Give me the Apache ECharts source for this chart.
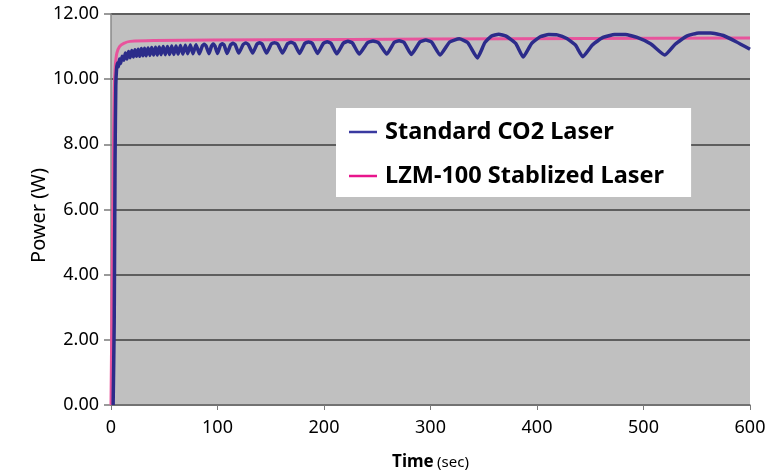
<!DOCTYPE html>
<html>
<head>
<meta charset="utf-8">
<script src="https://cdn.jsdelivr.net/npm/echarts@6/dist/echarts.min.js"></script>
<style>html,body{margin:0;padding:0;background:#fff}#c{width:765px;height:470px}</style>
</head>
<body>
<div id="c"></div>
<script>
const seriesNames = ['Standard CO2 Laser', 'LZM-100 Stablized Laser'];
const xTicks = [0, 100, 200, 300, 400, 500, 600];
const yTicks = [0, 2, 4, 6, 8, 10, 12];

const standardT = [2,3,3.8,4.5,5.2,6,7,8,9,10.5,12,13.5,15,16.5,18,19.5,21,22.5,24,25.5,27,28.5,30,31.5,33,34.8,36.5,38.2,40,41.8,43.5,45.3,47,49,51,53,55,57,59,61,63,65.2,67.5,69.8,72,74.5,77,79.8,
  83,85.7,87.5,89.3,92,94.4,96,97.6,100,102.7,104.5,106.3,109,112.3,114.5,116.7,120,124,126.5,129,133,137,139.5,142,146,150.5,153.5,156.5,161,165.8,169,172.2,177,182,185.5,189,194,199.4,203,206.6,212,218.3,222.5,226.7,233,240.8,246,251.2,259,265.9,270.5,275.1,282,290,295.5,301,
  309,318,327,335,344,351,357,364,371,380,387,395,403,411,419,428,436,443,452,462,473,483,494,507,520,530,541,552,563,575,587,600];
const standardV = [0,2.5,7.5,9.8,10.3,10.5,10.38,10.62,10.48,10.7,10.58,10.8,10.62,10.85,10.66,10.88,10.68,10.9,10.7,10.92,10.7,10.94,10.72,10.95,10.72,10.96,10.73,10.97,10.74,10.98,10.74,10.99,10.75,11.0,10.75,11.0,10.76,11.02,10.76,11.02,10.77,11.03,10.77,11.04,10.78,11.05,10.78,11.06,
  10.78,11.02,11.07,11.02,10.78,11.02,11.08,11.02,10.79,11.04,11.09,11.04,10.79,11.05,11.1,11.05,10.8,11.06,11.11,11.06,10.8,11.07,11.12,11.07,10.8,11.08,11.12,11.08,10.8,11.09,11.13,11.09,10.79,11.1,11.14,11.1,10.79,11.1,11.15,11.1,10.78,11.11,11.16,11.11,10.77,11.12,11.17,11.12,10.77,11.13,11.18,11.13,10.76,11.14,11.2,11.14,
  10.74,11.14,11.24,11.12,10.65,11.12,11.32,11.38,11.32,11.1,10.68,11.1,11.3,11.37,11.36,11.25,11.05,10.69,11.05,11.28,11.37,11.37,11.28,11.08,10.74,11.08,11.33,11.42,11.42,11.34,11.15,10.92];

const stabilizedT = [0,1,2,3,4,5.5,8,12,18,40,150,300,450,600];
const stabilizedV = [0,3.5,7,9.6,10.4,10.8,11.0,11.1,11.16,11.19,11.21,11.23,11.25,11.26];

const zip = (a, b) => a.map((t, i) => [t, b[i]]);

const chart = echarts.init(document.getElementById('c'));
chart.setOption({
  animation: false,
  backgroundColor: '#ffffff',
  grid: { left: 111, right: 15, top: 14, bottom: 65, show: true, backgroundColor: '#c0c0c0', borderWidth: 0,
    containLabel: false, outerBoundsMode: 'none' },
  legend: {
    data: seriesNames,
    orient: 'vertical',
    left: 336, top: 108,
    backgroundColor: '#ffffff',
    padding: [9, 27, 6, 13],
    itemGap: 14,
    itemWidth: 28, itemHeight: 2.5,
    icon: 'rect',
    textStyle: { fontFamily: 'Noto Sans', fontWeight: 'bold', fontSize: 23.5, color: '#000', lineHeight: 30, padding: [0, 0, 0, 3] }
  },
  xAxis: {
    type: 'value', min: 0, max: 600, interval: 100,
    name: '{b|Time} {r|(sec)}',
    nameLocation: 'middle', nameGap: 49, nameMoveOverlap: false,
    nameTextStyle: { rich: {
      b: { fontFamily: 'Noto Sans', fontWeight: 'bold', fontSize: 17, color: '#000' },
      r: { fontFamily: 'Noto Sans', fontSize: 15, color: '#000' }
    } },
    axisLine: { show: true, lineStyle: { color: '#7a7a7a', width: 1.5 } },
    axisTick: { show: true, length: 5, lineStyle: { color: '#7a7a7a' } },
    axisLabel: { fontFamily: 'Noto Sans', fontSize: 18, color: '#000', margin: 14,
      formatter: v => xTicks.includes(v) ? String(v) : '' },
    splitLine: { show: false }
  },
  yAxis: {
    type: 'value', min: 0, max: 12, interval: 2,
    name: 'Power (W)', nameLocation: 'middle', nameGap: 62, nameMoveOverlap: false,
    nameTextStyle: { fontFamily: 'Noto Sans', fontSize: 20, color: '#000', padding: [0, 12, 0, 0] },
    axisLine: { show: true, lineStyle: { color: '#8a8a8a', width: 1.5 } },
    axisTick: { show: true, length: 7, lineStyle: { color: '#7a7a7a', width: 1.5 } },
    axisLabel: { fontFamily: 'Noto Sans', fontSize: 18, color: '#000', margin: 12,
      formatter: v => yTicks.includes(v) ? v.toFixed(2) : '' },
    splitLine: { show: true, lineStyle: { color: '#5e5e5e', width: 2 } }
  },
  series: [
    { name: seriesNames[1], type: 'line', data: zip(stabilizedT, stabilizedV), showSymbol: false, symbol: 'none',
      smooth: 0.3, lineStyle: { color: '#e8549c', width: 3 }, itemStyle: { color: '#e8158c' }, z: 2 },
    { name: seriesNames[0], type: 'line', data: zip(standardT, standardV), showSymbol: false, symbol: 'none',
      smooth: 0.15, lineStyle: { color: '#2c2c8a', width: 3.5 }, itemStyle: { color: '#3a3aa0' }, z: 3 }
  ]
});
</script>
</body>
</html>
